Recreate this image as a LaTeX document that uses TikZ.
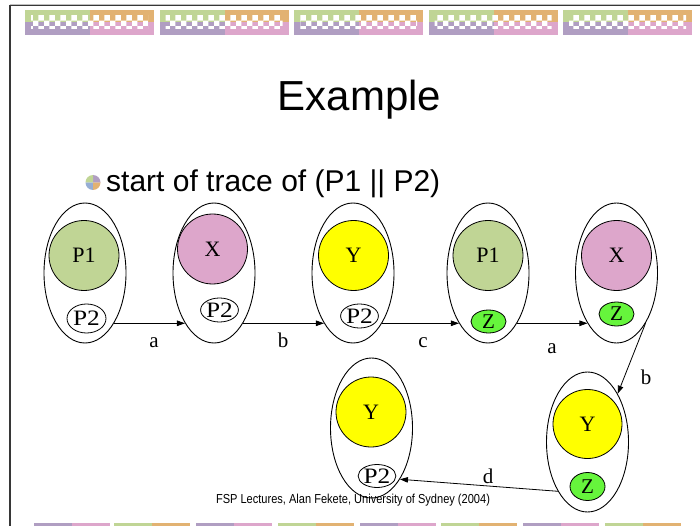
\documentclass[tikz,border=0pt]{standalone}
\usepackage{fontspec}
\setmainfont{Liberation Serif}
\newfontfamily\sansf{Liberation Sans}
\newfontfamily\narrowf[FakeStretch=0.85]{Liberation Sans}
\newfontfamily\wideserif[FakeStretch=1.15]{Liberation Serif}
\usetikzlibrary{shapes.geometric,patterns,arrows.meta}
\definecolor{bgreen}{RGB}{192,213,149}
\definecolor{borange}{RGB}{226,178,114}
\definecolor{bpurple}{RGB}{176,158,194}
\definecolor{bpink}{RGB}{221,166,203}
\definecolor{bblue}{RGB}{150,174,212}
\definecolor{zgreen}{RGB}{102,245,60}
\definecolor{yfill}{RGB}{255,255,0}
\definecolor{framegray}{RGB}{55,55,55}
\tikzset{
  st/.style={ellipse, draw, line width=0.9pt, minimum width=82pt, minimum height=140pt, inner sep=0pt},
  big/.style={circle, draw, line width=0.8pt, minimum size=70pt, inner sep=0pt, font=\fontsize{22}{26}\selectfont},
  sm/.style={ellipse, draw, line width=0.8pt, minimum width=35pt, minimum height=23pt, inner sep=0pt, font=\fontsize{21}{24}\selectfont},
  ptwo/.style={sm, font=\wideserif\fontsize{22}{24}\selectfont},
  edge/.style={line width=0.8pt, -{Triangle[length=8pt,width=5.5pt]}},
  lbl/.style={anchor=base, inner sep=0pt, font=\fontsize{21}{24}\selectfont}
}
\begin{document}
\begin{tikzpicture}[x=1pt,y=-1pt]
\path[use as bounding box, fill=white] (0,0) rectangle (700,526);
% frame
\draw[gray!50, line width=0.8pt] (9.5,4) -- (700,4);
\draw[framegray, line width=1.4pt] (10,526) -- (10,5.3) -- (700,5.3);
% top bars
\foreach \x in {25,159.5,294,428.5,563}{
  \fill[bgreen] (\x,10) rectangle ++(65,12.5);
  \fill[borange] (\x+65,10) rectangle ++(64,12.5);
  \fill[bpurple] (\x,22.5) rectangle ++(65,12.5);
  \fill[bpink] (\x+65,22.5) rectangle ++(64,12.5);
  \fill[pattern=checkerboard, pattern color=white] (\x+6,16) rectangle ++(117,13);
}
% bottom bars
\foreach \x/\ca/\cb in {33.5/bpurple/bpink,114/bgreen/borange,196/bpurple/bpink,278/bgreen/borange,360/bpurple/bpink,441/bgreen/borange,523/bpurple/bpink,605/bgreen/borange}{
  \fill[\ca] (\x,523.3) rectangle ++(38,2.7);
  \fill[\cb] (\x+38,523.3) rectangle ++(38,2.7);
}
% title
\node[anchor=base, inner sep=0pt, font=\sansf\fontsize{42}{50}\selectfont] (title) at (359.5,111) {Example};
% bullet
\coordinate (bc) at (93,182.5);
\fill[bblue] (bc) -- ++(180:7.5) arc[start angle=180, end angle=90, radius=7.5] -- cycle;
\fill[borange] (bc) -- ++(90:7.5) arc[start angle=90, end angle=0, radius=7.5] -- cycle;
\fill[bpurple] (bc) -- ++(0:7.5) arc[start angle=0, end angle=-90, radius=7.5] -- cycle;
\fill[bgreen] (bc) -- ++(-90:7.5) arc[start angle=-90, end angle=-180, radius=7.5] -- cycle;
\node[anchor=base west, inner sep=0pt, font=\sansf\fontsize{30}{36}\selectfont] (sub) at (106,192) {start of trace of (P1 || P2)};
% states
\node[st] (n1) at (85,273) {};
\node[big, fill=bgreen] (n1a) at (84,255.5) {P1};
\node[ptwo, minimum width=39pt, minimum height=29pt] (n1b) at (86.5,318.5) {P2};

\node[st] (n2) at (214,273) {};
\node[big, fill=bpink] (n2a) at (212.5,249) {X};
\node[ptwo, minimum height=24pt] (n2b) at (219.5,310) {P2};

\node[st] (n3) at (353,273) {};
\node[big, fill=yfill] (n3a) at (353.5,255.5) {Y};
\node[ptwo, minimum height=24pt] (n3b) at (359.5,316) {P2};

\node[st] (n4) at (488,273) {};
\node[big, fill=bgreen] (n4a) at (488,255.5) {P1};
\node[sm, fill=zgreen] (n4b) at (488.5,321.5) {Z};

\node[st] (n5) at (616.5,273) {};
\node[big, fill=bpink] (n5a) at (616.5,255.5) {X};
\node[sm, fill=zgreen, minimum height=24pt] (n5b) at (616.5,314) {Z};

\node[st] (n6) at (587.5,442) {};
\node[big, fill=yfill, minimum size=69pt] (n6a) at (587.5,424) {Y};
\node[sm, fill=zgreen, minimum height=28pt] (n6b) at (587.5,486.5) {Z};

\node[st] (n7) at (371.5,428) {};
\node[big, fill=yfill] (n7a) at (371,412) {Y};
\node[ptwo, minimum width=36pt] (n7b) at (377,476) {P2};
% transitions
\draw[edge] (n1.-60) -- (n2.-120);
\draw[edge] (n2.-60) -- (n3.-120);
\draw[edge] (n3.-60) -- (n4.-120);
\draw[edge] (n4.-60) -- (n5.-120);
\draw[edge] (n5.-60) -- (n6.58);
\draw[edge] (n6.-121) -- (n7.-61);
% labels
\node[lbl] (la1) at (154,347) {a};
\node[lbl] (lb1) at (283,347) {b};
\node[lbl] (lc) at (423,347) {c};
\node[lbl] (la2) at (552,353) {a};
\node[lbl] (lb2) at (646,384) {b};
\node[lbl] (ld) at (488,483) {d};
% footer
\node[anchor=base, inner sep=0pt, font=\narrowf\fontsize{13}{15}\selectfont] (foot) at (353,503) {FSP Lectures, Alan Fekete, University of Sydney (2004)};
\end{tikzpicture}
\end{document}
